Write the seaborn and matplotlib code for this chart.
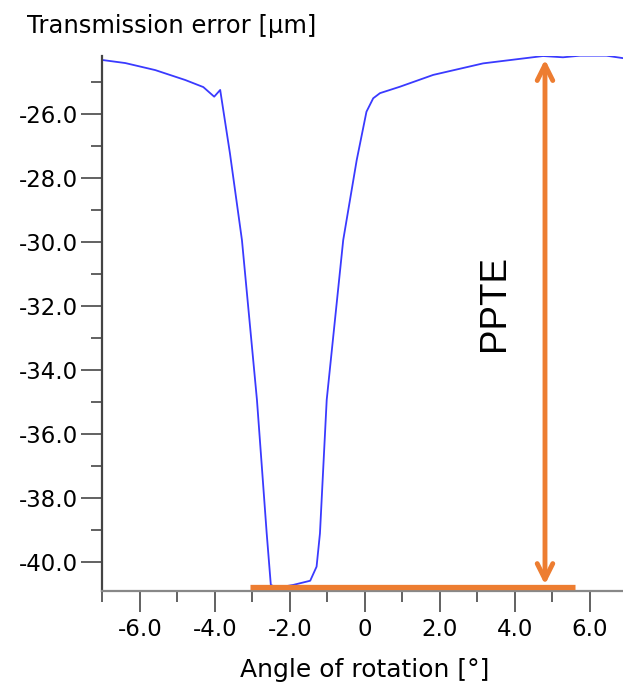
import matplotlib
matplotlib.use('Agg')
import matplotlib.pyplot as plt
import matplotlib.ticker as mticker
import numpy as np
import pandas as pd
import seaborn as sns

# transmission error curve
angle = [-7.03, -6.39, -5.59, -4.79, -4.31, -4.02, -3.86, -3.60, -3.28, -2.88,
         -2.75, -2.62, -2.51, -2.35, -1.91, -1.46, -1.29, -1.20, -1.11, -1.02,
         -0.58, -0.22, 0.04, 0.22, 0.40, 0.93, 1.82, 3.15, 4.75, 5.28, 5.73,
         6.44, 6.90]
te = [-24.31, -24.41, -24.63, -24.94, -25.16, -25.46, -25.25, -27.23, -29.94, -34.93,
      -37.01, -39.10, -40.71, -40.80, -40.71, -40.58, -40.14, -39.10, -37.01, -34.93,
      -29.94, -27.44, -25.93, -25.51, -25.35, -25.15, -24.78, -24.42, -24.19, -24.23,
      -24.18, -24.18, -24.26]

x_ticks = [-6, -4, -2, 0, 2, 4, 6]
y_ticks = [-26, -28, -30, -32, -34, -36, -38, -40]

# PPTE annotation
ppte_x = 4.8
ppte_top = -24.3
ppte_bottom = -40.7
base_y = -40.77
base_x = [-3.07, 5.6]

df = pd.DataFrame({'angle': angle, 'te': te})

sns.set_style('white')
plt.rcParams['font.family'] = ['DejaVu Sans']
plt.rcParams['text.color'] = 'black'
plt.rcParams['xtick.labelcolor'] = 'black'
plt.rcParams['ytick.labelcolor'] = 'black'

fig = plt.figure(figsize=(6.23, 6.91), dpi=100)
ax = fig.add_axes([0.1632, 0.1452, 0.8368, 0.7742])

sns.lineplot(data=df, x='angle', y='te', ax=ax, color='#3a3aff', lw=1.3, sort=False)

orange = '#ED7D31'
ax.plot(base_x, [base_y, base_y], color=orange, lw=3.8, solid_capstyle='butt', zorder=4)
ax.annotate('', xy=(ppte_x, ppte_top), xytext=(ppte_x, ppte_bottom),
            arrowprops=dict(arrowstyle='<->', color=orange, lw=3.5, mutation_scale=28,
                            shrinkA=0, shrinkB=0), zorder=5)
ax.text(3.46, -31.9, 'PPTE', rotation=90, fontsize=26.5, ha='center', va='center',
        family='Liberation Sans', color='black')

ax.set_xlim(-7.02, 6.88)
ax.set_ylim(-40.89, -24.18)

ax.set_xticks(x_ticks)
ax.set_yticks(y_ticks)
ax.xaxis.set_minor_locator(mticker.MultipleLocator(2, offset=1))
ax.yaxis.set_minor_locator(mticker.MultipleLocator(2, offset=1))
fmt = mticker.FuncFormatter(lambda v, p: '0' if abs(v) < 1e-9 else f'{v:.1f}')
ax.xaxis.set_major_formatter(fmt)
ax.yaxis.set_major_formatter(fmt)

ax.tick_params(which='major', length=15, width=1.3, color='#555555', labelsize=16.5,
               direction='out', labelcolor='black')
ax.tick_params(which='minor', length=8, width=1.3, color='#555555', direction='out')
ax.tick_params(axis='x', which='both', bottom=True, pad=5)
ax.tick_params(axis='y', which='both', left=True, pad=2)

for s in ['top', 'right']:
    ax.spines[s].set_visible(False)
ax.spines['left'].set_color('#444444')
ax.spines['left'].set_linewidth(1.6)
ax.spines['left'].set_linestyle((0, (2, 1)))
ax.spines['bottom'].set_color('#888888')
ax.spines['bottom'].set_linewidth(1.6)

ax.set_xlabel('')
ax.set_ylabel('')
fig.text(27 / 623, 1 - 33 / 691, 'Transmission error [µm]', fontsize=17.5,
         va='baseline', ha='left', color='black')
fig.text(365 / 623, 1 - 677 / 691, 'Angle of rotation [°]', fontsize=18,
         va='baseline', ha='center', color='black')

fig.savefig('out.png', dpi=100)
